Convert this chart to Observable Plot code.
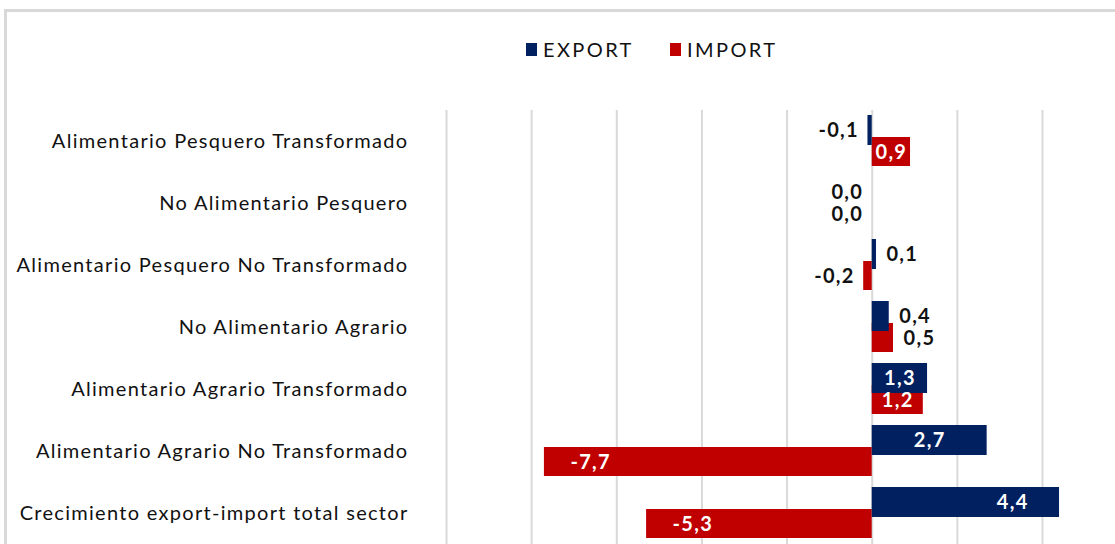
<!DOCTYPE html>
<html>
<head>
<meta charset="utf-8">
<script src="https://cdn.jsdelivr.net/npm/d3@7"></script>
<script src="https://cdn.jsdelivr.net/npm/@observablehq/plot@0.6"></script>
<style>
  html, body { margin: 0; padding: 0; background: #fff; overflow: hidden; }
  body { width: 1115px; height: 544px; position: relative; font-family: Lato, "Open Sans", sans-serif; }
  #frame { position: absolute; left: 4px; top: 9px; width: 1200px; height: 700px; border: 3px solid #d9d9d9; pointer-events: none; }
  #legend { position: relative; height: 100px; }
  .item { position: absolute; top: 37px; display: flex; align-items: center; font-size: 20px; color: #111; letter-spacing: 2.4px; }
  .sw { width: 11px; height: 13px; margin-right: 6px; }
  #chart { position: relative; }
  #chart svg text { letter-spacing: 1.3px; }
</style>
</head>
<body>
<div id="frame"></div>
<div id="legend"></div>
<div id="chart"></div>
<script>
const categories = [
  "Alimentario Pesquero Transformado",
  "No Alimentario Pesquero",
  "Alimentario Pesquero No Transformado",
  "No Alimentario Agrario",
  "Alimentario Agrario Transformado",
  "Alimentario Agrario No Transformado",
  "Crecimiento export-import total sector"
];
const exportValues = [-0.1, 0.0, 0.1, 0.4, 1.3, 2.7, 4.4];
const importValues = [0.9, 0.0, -0.2, 0.5, 1.2, -7.7, -5.3];
const seriesNames = ["EXPORT", "IMPORT"];
const seriesColors = ["#002060", "#C00000"];
const gridTicks = [-10, -8, -6, -4, -2, 0, 2, 4];

// legend
const legend = document.getElementById("legend");
const legendLeft = [526, 670];
seriesNames.forEach((n, i) => {
  const d = document.createElement("div");
  d.className = "item";
  d.style.left = legendLeft[i] + "px";
  d.innerHTML = `<span class="sw" style="background:${seriesColors[i]}"></span>${n}`;
  legend.appendChild(d);
});

const exportRows = categories.map((c, i) => ({cat: c, value: exportValues[i], series: 0}));
const importRows = categories.map((c, i) => ({cat: c, value: importValues[i], series: 1}));
const fmt = v => v.toFixed(1).replace(".", ",");

function place(r) {
  const a = Math.abs(r.value);
  if (a < 0.8) {
    return r.value <= 0 ? {g: "outL", lx: r.value, color: "#111"} : {g: "outR", lx: r.value, color: "#111"};
  }
  if (a < 3) return {g: "mid", lx: r.value / 2, color: "#fff"};
  return r.value > 0 ? {g: "inR", lx: r.value, color: "#fff"} : {g: "inL", lx: r.value, color: "#fff"};
}
const labelRows = [...exportRows, ...importRows].map(r => ({...r, ...place(r), label: fmt(r.value)}));
const groups = {
  outL: {textAnchor: "end", dx: -9},
  outR: {textAnchor: "start", dx: 10},
  mid: {textAnchor: "middle", dx: 0},
  inR: {textAnchor: "end", dx: -31},
  inL: {textAnchor: "start", dx: 26}
};
const seriesDy = [-11, 11];
const labelMarks = [];
for (const [g, opt] of Object.entries(groups)) {
  for (const s of [0, 1]) {
    const rows = labelRows.filter(r => r.g === g && r.series === s);
    if (!rows.length) continue;
    labelMarks.push(Plot.text(rows, {
      x: "lx", y: "cat", text: "label", fill: "color",
      textAnchor: opt.textAnchor, dx: opt.dx, dy: seriesDy[s],
      fontSize: 20, fontWeight: "bold"
    }));
  }
}

const chart = Plot.plot({
  width: 1115,
  height: 444,
  marginTop: 10,
  marginBottom: 0,
  marginLeft: 446,
  marginRight: 73,
  style: {fontFamily: "Lato, 'Open Sans', sans-serif", background: "transparent", overflow: "visible", letterSpacing: "1.3px"},
  x: {domain: [-10, 4], axis: null},
  y: {domain: categories, padding: 0, axis: null},
  marks: [
    Plot.ruleX(gridTicks, {stroke: "#d9d9d9", strokeWidth: 2}),
    Plot.barX(importRows, {x: "value", y: "cat", fill: seriesColors[1], insetTop: 27, insetBottom: 6}),
    Plot.barX(exportRows, {x: "value", y: "cat", fill: seriesColors[0], insetTop: 5, insetBottom: 27}),
    Plot.text(categories, {y: d => d, frameAnchor: "left", textAnchor: "end", dx: -38, fontSize: 20, fill: "#111"}),
    ...labelMarks
  ]
});
document.getElementById("chart").appendChild(chart);
</script>
</body>
</html>
